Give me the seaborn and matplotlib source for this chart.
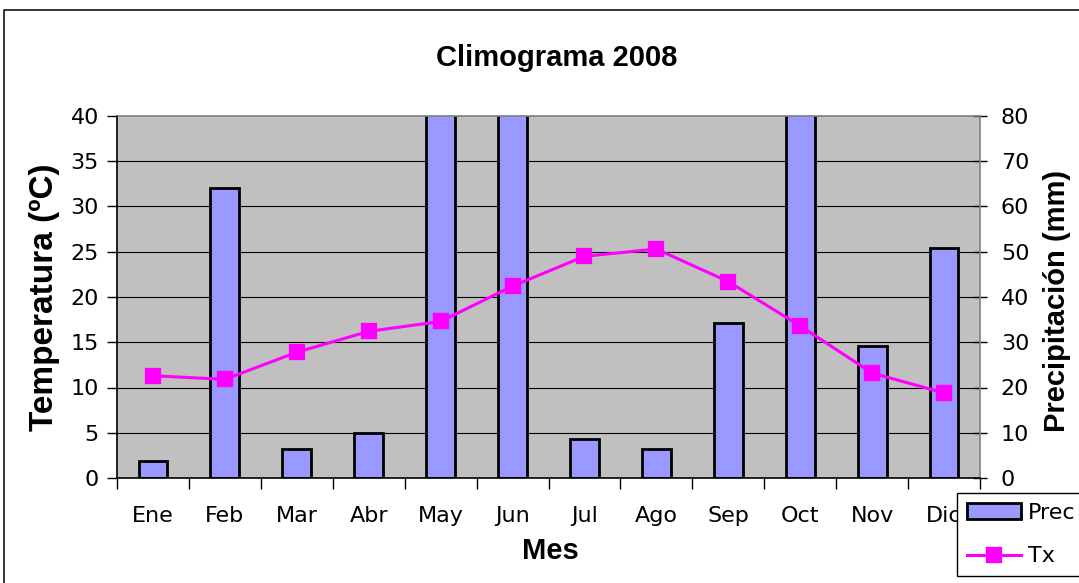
import matplotlib
matplotlib.use('Agg')
import numpy as np
import pandas as pd
import matplotlib.pyplot as plt
import seaborn as sns
from matplotlib.patches import Rectangle
from matplotlib.ticker import FixedLocator

# ---- data ----
meses = ['Ene', 'Feb', 'Mar', 'Abr', 'May', 'Jun', 'Jul', 'Ago', 'Sep', 'Oct', 'Nov', 'Dic']
prec = [3.7, 64.1, 6.4, 9.9, 95.0, 120.0, 8.6, 6.4, 34.3, 100.0, 29.2, 50.8]
tx = [11.3, 10.9, 13.9, 16.2, 17.3, 21.2, 24.5, 25.3, 21.7, 16.8, 11.6, 9.4]
temp_ticks = [0, 5, 10, 15, 20, 25, 30, 35, 40]
prec_ticks = [0, 10, 20, 30, 40, 50, 60, 70, 80]

plt.rcParams['font.family'] = ['DejaVu Sans']
df = pd.DataFrame({'Mes': meses, 'Prec': prec, 'Tx': tx})

W, H = 1079, 583
L, R, B, T = 117, 980, 478, 116
fig = plt.figure(figsize=(W / 100, H / 100), dpi=100)
fig.patch.set_facecolor('white')

ax_p = fig.add_axes([L / W, 1 - B / H, (R - L) / W, (B - T) / H])
ax_p.set_facecolor('#C0C0C0')
sns.barplot(data=df, x='Mes', y='Prec', ax=ax_p, color='#9999FF', saturation=1,
            width=0.4, edgecolor='black', linewidth=2.0, label='Prec')

ax_t = ax_p.twinx()
sns.pointplot(data=df, x='Mes', y='Tx', ax=ax_t, color='#FF00FF', markers='s',
              markersize=10.5, linewidth=2.2, label='Tx')

for a in (ax_p, ax_t):
    if a.get_legend() is not None:
        a.get_legend().remove()

# axes
ax_p.set_xlim(-0.5, 11.5)
ax_p.set_ylim(0, 80)
ax_t.set_ylim(0, 40)
ax_p.yaxis.set_major_locator(FixedLocator(prec_ticks))
ax_t.yaxis.set_major_locator(FixedLocator(temp_ticks))

ax_p.yaxis.tick_right()
ax_p.yaxis.set_label_position('right')
ax_t.yaxis.tick_left()
ax_t.yaxis.set_label_position('left')

ax_p.set_xlabel('Mes', fontsize=21, fontweight='bold', family='Liberation Sans')
ax_p.set_ylabel('Precipitación (mm)', fontsize=21, fontweight='bold', family='Liberation Sans')
ax_t.set_ylabel('Temperatura (ºC)', fontsize=24, fontweight='bold', family='Liberation Sans')
ax_p.xaxis.set_label_coords(0.502, -0.163)
ax_p.yaxis.set_label_coords(1.073, 0.49)
ax_t.yaxis.set_label_coords(-0.066, 0.5)

ax_p.set_xticks(range(len(meses)))
ax_p.set_xticklabels(meses)
ax_p.xaxis.set_minor_locator(FixedLocator(np.arange(-0.5, 12, 1)))
ax_p.tick_params(axis='x', which='major', length=0, pad=20, labelsize=16)
ax_p.tick_params(axis='x', which='minor', length=8, width=1, direction='out', color='black')
ax_p.tick_params(axis='y', which='major', length=10, width=1, direction='inout', color='black',
                 labelsize=16, pad=10, right=True, left=False)
ax_t.tick_params(axis='y', which='major', length=7, width=1, direction='out', color='black',
                 labelsize=16, pad=6, left=True, right=False)

# grid behind bars
ax_p.set_axisbelow(True)
ax_p.yaxis.grid(True, color='black', linewidth=0.8)
ax_p.xaxis.grid(False)
ax_t.grid(False)
yt = ax_p.yaxis.get_major_ticks()
yt[0].gridline.set_visible(False)
yt[-1].gridline.set_visible(False)

for name, sp in ax_p.spines.items():
    sp.set_linewidth(1.2)
    sp.set_color('black' if name in ('left', 'bottom') else '#808080')
for sp in ax_t.spines.values():
    sp.set_visible(False)

# title
fig.text(557 / W, 1 - 58 / H, 'Climograma 2008', ha='center', va='center',
         fontsize=21, fontweight='bold', family='Liberation Sans')

# legend
h1, l1 = ax_p.get_legend_handles_labels()
h2, l2 = ax_t.get_legend_handles_labels()
fig.legend(h1 + h2, l1 + l2, loc='upper left', bbox_to_anchor=(957 / W, 1 - 493 / H),
           bbox_transform=fig.transFigure, borderaxespad=0, frameon=True, fancybox=False,
           edgecolor='black', framealpha=1, fontsize=16, handlelength=2.45,
           handletextpad=0.3, labelspacing=1.05, borderpad=0.45)

# outer chart border
fig.add_artist(Rectangle((4 / W, -0.1), 1.2, 1.1 - 10 / H, transform=fig.transFigure,
                         fill=False, edgecolor='black', linewidth=1.1))

fig.savefig('out.png', dpi=100)
